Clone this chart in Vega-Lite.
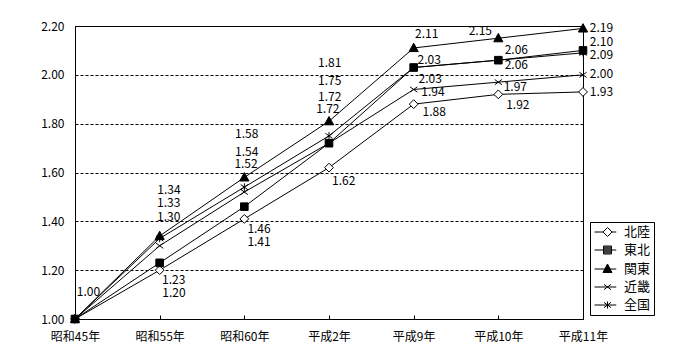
{
  "$schema": "https://vega.github.io/schema/vega-lite/v6.json",
  "width": 508,
  "height": 293,
  "autosize": {"type": "none"},
  "padding": {"left": 75, "top": 26, "right": 117, "bottom": 41},
  "background": "white",
  "config": {
    "view": {"stroke": "black", "strokeWidth": 1},
    "font": "Noto Sans CJK JP",
    "axis": {"labelFont": "Noto Sans CJK JP", "labelFontSize": 12, "labelColor": "black", "domainColor": "black", "tickColor": "black", "titleColor": "black"}
  },
  "data": {
    "values": [
      {"year": "昭和45年", "series": "北陸", "value": 1.00},
      {"year": "昭和55年", "series": "北陸", "value": 1.20},
      {"year": "昭和60年", "series": "北陸", "value": 1.41},
      {"year": "平成2年", "series": "北陸", "value": 1.62},
      {"year": "平成9年", "series": "北陸", "value": 1.88},
      {"year": "平成10年", "series": "北陸", "value": 1.92},
      {"year": "平成11年", "series": "北陸", "value": 1.93},
      {"year": "昭和45年", "series": "東北", "value": 1.00},
      {"year": "昭和55年", "series": "東北", "value": 1.23},
      {"year": "昭和60年", "series": "東北", "value": 1.46},
      {"year": "平成2年", "series": "東北", "value": 1.72},
      {"year": "平成9年", "series": "東北", "value": 2.03},
      {"year": "平成10年", "series": "東北", "value": 2.06},
      {"year": "平成11年", "series": "東北", "value": 2.10},
      {"year": "昭和45年", "series": "関東", "value": 1.00},
      {"year": "昭和55年", "series": "関東", "value": 1.34},
      {"year": "昭和60年", "series": "関東", "value": 1.58},
      {"year": "平成2年", "series": "関東", "value": 1.81},
      {"year": "平成9年", "series": "関東", "value": 2.11},
      {"year": "平成10年", "series": "関東", "value": 2.15},
      {"year": "平成11年", "series": "関東", "value": 2.19},
      {"year": "昭和45年", "series": "近畿", "value": 1.00},
      {"year": "昭和55年", "series": "近畿", "value": 1.30},
      {"year": "昭和60年", "series": "近畿", "value": 1.52},
      {"year": "平成2年", "series": "近畿", "value": 1.72},
      {"year": "平成9年", "series": "近畿", "value": 1.94},
      {"year": "平成10年", "series": "近畿", "value": 1.97},
      {"year": "平成11年", "series": "近畿", "value": 2.00},
      {"year": "昭和45年", "series": "全国", "value": 1.00},
      {"year": "昭和55年", "series": "全国", "value": 1.33},
      {"year": "昭和60年", "series": "全国", "value": 1.54},
      {"year": "平成2年", "series": "全国", "value": 1.75},
      {"year": "平成9年", "series": "全国", "value": 2.03},
      {"year": "平成10年", "series": "全国", "value": 2.06},
      {"year": "平成11年", "series": "全国", "value": 2.09}
    ]
  },
  "encoding": {
    "x": {
      "field": "year", "type": "ordinal",
      "sort": ["昭和45年", "昭和55年", "昭和60年", "平成2年", "平成9年", "平成10年", "平成11年"],
      "scale": {"type": "point", "padding": 0},
      "axis": {"title": null, "labelAngle": 0, "grid": false, "tickSize": -4, "labelPadding": 21, "labelBaseline": "middle", "domainColor": "black", "tickColor": "black"}
    },
    "y": {
      "field": "value", "type": "quantitative",
      "scale": {"domain": [1, 2.2], "nice": false, "zero": false},
      "axis": {"title": null, "values": [1, 1.2, 1.4, 1.6, 1.8, 2.0, 2.2], "format": ".2f", "ticks": false, "labelPadding": 11, "grid": true, "gridColor": "black", "gridOpacity": 1, "gridDash": [3, 2], "domainColor": "black"}
    }
  },
  "layer": [
    {
      "mark": {"type": "line", "color": "black", "strokeWidth": 1},
      "encoding": {"detail": {"field": "series", "type": "nominal"}}
    },
    {
      "mark": {"type": "point", "filled": true, "stroke": "black", "strokeWidth": 1, "size": 64, "opacity": 1},
      "encoding": {
        "shape": {
          "field": "series", "type": "nominal",
          "scale": {
            "domain": ["北陸", "東北", "関東", "近畿", "全国"],
            "range": [
              "M0,-1.1L1.1,0L0,1.1L-1.1,0Z",
              "M-0.95,-0.95L0.95,-0.95L0.95,0.95L-0.95,0.95Z",
              "M0,-1.2L1.15,0.9L-1.15,0.9Z",
              "M-0.9,-0.65L0.9,0.65M-0.9,0.65L0.9,-0.65",
              "M-0.9,-0.65L0.9,0.65M-0.9,0.65L0.9,-0.65M0,-0.95L0,0.95"
            ]
          },
          "legend": null
        },
        "fill": {"condition": {"test": "datum.series === '北陸'", "value": "white"}, "value": "black"}
      }
    },
    {
      "transform": [{"filter": "datum.year !== '昭和45年' || datum.series === '北陸'"}],
      "mark": {
        "type": "text", "font": "Noto Sans CJK JP", "fontSize": 12, "color": "black", "align": "center", "baseline": "middle",
        "dx": {"expr": "({'昭和45年|北陸':13.5,'昭和55年|関東':9.3,'昭和55年|全国':9,'昭和55年|近畿':9,'昭和55年|東北':14,'昭和55年|北陸':14.3,'昭和60年|関東':2.4,'昭和60年|全国':2.4,'昭和60年|近畿':1.7,'昭和60年|東北':14.7,'昭和60年|北陸':14.7,'平成2年|関東':0.7,'平成2年|全国':0.7,'平成2年|東北':0.7,'平成2年|近畿':-1.2,'平成2年|北陸':14.7,'平成9年|関東':13,'平成9年|東北':15.6,'平成9年|全国':16.6,'平成9年|近畿':19.3,'平成9年|北陸':20.6,'平成10年|関東':-18,'平成10年|東北':18,'平成10年|全国':18,'平成10年|近畿':17,'平成10年|北陸':19.5,'平成11年|関東':18.5,'平成11年|東北':18.5,'平成11年|全国':18.5,'平成11年|近畿':18.5,'平成11年|北陸':18.5})[datum.year + '|' + datum.series]"},
        "dy": {"expr": "({'昭和45年|北陸':-27,'昭和55年|関東':-46,'昭和55年|全国':-35.4,'昭和55年|近畿':-29,'昭和55年|東北':17.2,'昭和55年|北陸':22.5,'昭和60年|関東':-43.1,'昭和60年|全国':-34.8,'昭和60年|近畿':-27.7,'昭和60年|東北':22.3,'昭和60年|北陸':22.8,'平成2年|関東':-58.5,'平成2年|全国':-55.2,'平成2年|東北':-46.5,'平成2年|近畿':-33.9,'平成2年|北陸':13.1,'平成9年|関東':-14,'平成9年|東北':-7.5,'平成9年|全国':11.7,'平成9年|近畿':3,'平成9年|北陸':7.6,'平成10年|関東':-7.2,'平成10年|東北':-10.2,'平成10年|全国':4.8,'平成10年|近畿':4.5,'平成10年|北陸':10.6,'平成11年|関東':0,'平成11年|東北':-8,'平成11年|全国':2,'平成11年|近畿':-0.5,'平成11年|北陸':0})[datum.year + '|' + datum.series]"}
      },
      "encoding": {"text": {"field": "value", "type": "quantitative", "format": ".2f"}}
    },
    {
      "transform": [{"filter": "false"}],
      "mark": {"type": "point", "filled": false, "color": "black", "strokeWidth": 1, "opacity": 1},
      "encoding": {
        "shape": {
          "field": "series", "type": "nominal",
          "scale": {
            "domain": ["北陸", "東北", "関東", "近畿", "全国"],
            "range": [
              "M-0.846,0L0.46,0M1.85,0L2.5,0M1.154,-0.69L1.85,0L1.154,0.69L0.46,0Z",
              "M-0.846,0L2.5,0M0.54,-0.615L1.77,-0.615L1.77,0.615L0.54,0.615ZM0.54,-0.46L1.77,-0.46M0.54,-0.31L1.77,-0.31M0.54,-0.154L1.77,-0.154M0.54,0.154L1.77,0.154M0.54,0.31L1.77,0.31M0.54,0.46L1.77,0.46",
              "M-0.846,0L2.5,0M1.154,-0.77L1.85,0.54L0.46,0.54ZM1.03,-0.536L1.277,-0.536M0.95,-0.382L1.358,-0.382M0.869,-0.228L1.439,-0.228M0.788,-0.074L1.52,-0.074M0.706,0.08L1.602,0.08M0.625,0.234L1.683,0.234M0.544,0.388L1.764,0.388",
              "M-0.846,0L2.5,0M0.62,-0.4L1.69,0.4M0.62,0.4L1.69,-0.4",
              "M-0.846,0L2.5,0M0.62,-0.4L1.69,0.4M0.62,0.4L1.69,-0.4M1.154,-0.55L1.154,0.55"
            ]
          },
          "legend": {
            "title": null, "orient": "none", "legendX": 515, "legendY": 196, "padding": 3,
            "strokeColor": "black", "fillColor": "white", "symbolSize": 169, "symbolStrokeWidth": 1,
            "symbolStrokeColor": "black", "symbolOpacity": 1,
            "labelFontSize": 13, "labelOffset": 17, "rowPadding": 4, "labelFont": "Noto Sans CJK JP", "labelColor": "black"
          }
        }
      }
    }
  ],
  "resolve": {"scale": {"shape": "independent"}}
}
